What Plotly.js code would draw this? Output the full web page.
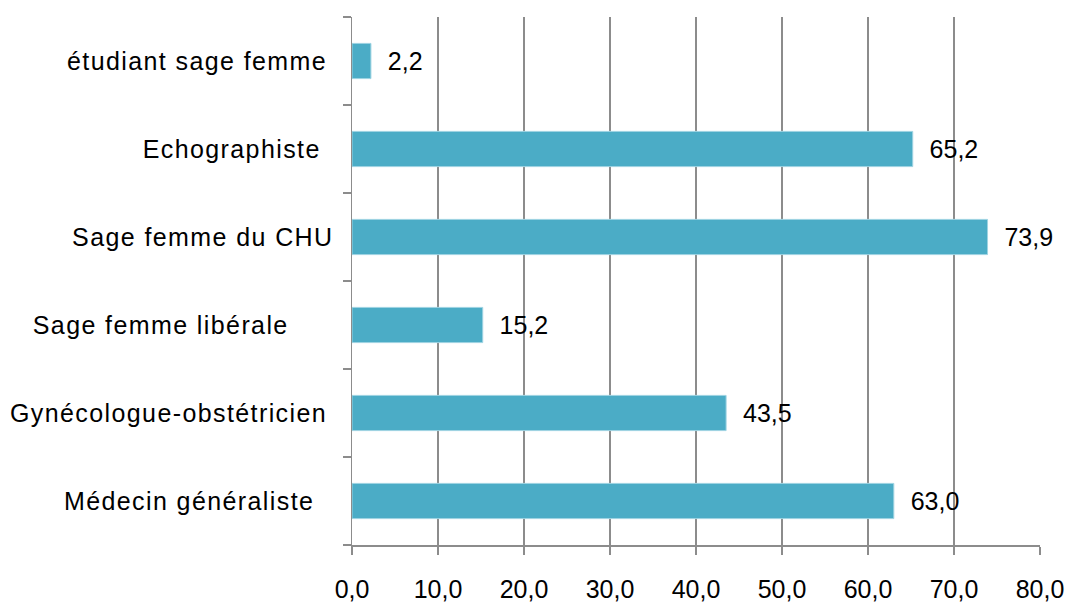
<!DOCTYPE html>
<html>
<head>
<meta charset="utf-8">
<script src="https://cdn.plot.ly/plotly-3.0.1.min.js"></script>
<style>
html,body{margin:0;padding:0;background:#fff;}
#chart{width:1070px;height:602px;}
#chart .ytick text{letter-spacing:1.4px;}
</style>
</head>
<body>
<div id="chart"></div>
<script>
// Data (top to bottom as shown)
var categories = ["étudiant sage femme", "Echographiste", "Sage femme du CHU", "Sage femme libérale", "Gynécologue-obstétricien", "Médecin généraliste"];
var values = [2.2, 65.2, 73.9, 15.2, 43.5, 63.0];
var tickValues = [0, 10, 20, 30, 40, 50, 60, 70, 80];
// trailing padding (thin spaces) to mimic label placement
var labelPad = [1, 2, 0, 7, 1, 3];

var NB = "\u00a0";
var TH = "\u2009";
var tickText = categories.map(function (c, i) { return c + TH.repeat(labelPad[i]); });

var FONT = "Liberation Sans, Arial, sans-serif";

var trace = {
  type: "bar",
  orientation: "h",
  y: categories,
  x: values,
  width: 0.4,
  marker: { color: "#4BACC6", line: { color: "#9ED3E2", width: 1 } },
  texttemplate: NB + NB + "%{x:.1f}",
  textposition: "outside",
  cliponaxis: false,
  textfont: { family: FONT, size: 25, color: "#000" },
  hoverinfo: "none"
};

var layout = {
  width: 1070,
  height: 602,
  margin: { l: 352, r: 30, t: 17, b: 57 },
  paper_bgcolor: "#fff",
  plot_bgcolor: "#fff",
  separators: ", ",
  showlegend: false,
  font: { family: FONT, size: 25, color: "#000" },
  xaxis: {
    range: [0, 80],
    tickvals: tickValues,
    tickformat: ".1f",
    showgrid: true,
    gridcolor: "#8C8C8C",
    gridwidth: 1.5,
    zeroline: false,
    showline: true,
    linecolor: "#8C8C8C",
    linewidth: 1.5,
    ticks: "outside",
    ticklen: 8,
    tickwidth: 1.5,
    tickcolor: "#8C8C8C",
    ticklabelstandoff: 13,
    tickfont: { family: FONT, size: 25, color: "#000" },
    fixedrange: true
  },
  yaxis: {
    type: "category",
    categoryorder: "array",
    categoryarray: categories,
    tickvals: categories,
    ticktext: tickText,
    autorange: "reversed",
    showgrid: false,
    zeroline: false,
    showline: true,
    linecolor: "#8C8C8C",
    linewidth: 1.5,
    ticks: "",
    ticklabelstandoff: 12,
    tickfont: { family: FONT, size: 25, color: "#000" },
    fixedrange: true
  },
  // secondary axis only to draw the category-boundary tick marks
  yaxis2: {
    overlaying: "y",
    range: [categories.length, 0],
    tickvals: categories.map(function (c, i) { return i; }).concat([categories.length]),
    showticklabels: false,
    ticks: "outside",
    ticklen: 8,
    tickwidth: 1.5,
    tickcolor: "#8C8C8C",
    showgrid: false,
    zeroline: false,
    showline: false,
    fixedrange: true
  }
};

var dummy = { type: "scatter", x: [null], y: [null], yaxis: "y2", hoverinfo: "none", showlegend: false };

Plotly.newPlot("chart", [trace, dummy], layout, { displayModeBar: false, staticPlot: true });
</script>
</body>
</html>
